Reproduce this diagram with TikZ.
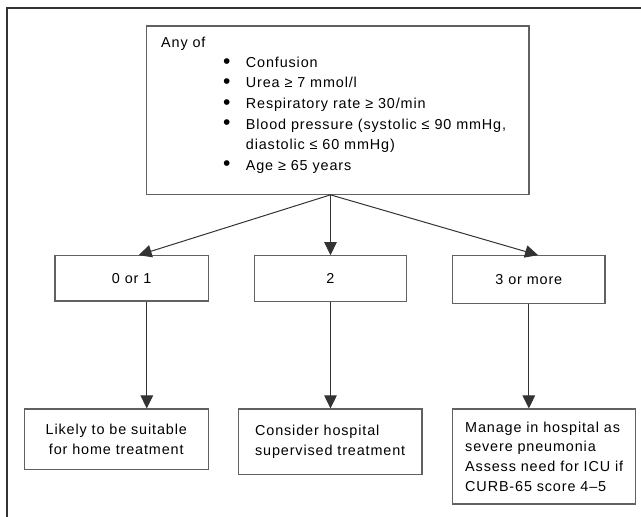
\documentclass[tikz,border=0pt]{standalone}
\usepackage{fontspec}
\setmainfont{Liberation Sans}[LetterSpace=6]
\usetikzlibrary{arrows.meta,calc}
\begin{document}
\begin{tikzpicture}[x=1pt,y=-1pt,
  box/.style={draw=black!62, line width=1.1pt, inner sep=0pt,
    font=\fontsize{14.4}{19.6}\selectfont, text=black},
  txt/.style={inner sep=0pt, font=\fontsize{14.4}{19.6}\selectfont, text=black},
  bul/.style={inner sep=0pt, font=\fontsize{21}{21}\selectfont, text=black, anchor=center},
  arr/.style={draw=black!80, line width=1pt, -{Triangle[length=13pt,width=12.5pt]}},
  frame/.style={draw=black!80, line width=2pt}]
\useasboundingbox (0,0) rectangle (641,517);
\draw[frame] (7,517) -- (7,8) -- (641,8);

% top box
\node[box, minimum width=382.3pt, minimum height=168.3pt] (top) at (337.85,110.15) {};
\node[txt, anchor=base west] (anyof) at (161,47.3) {Any of};
\node[bul] (bu1) at (226.7,63.3) {•};
\node[txt, anchor=base west] (l1) at (245.7,67.3) {Confusion};
\node[bul] (bu2) at (226.7,83.8) {•};
\node[txt, anchor=base west] (l2) at (245.7,87.8) {Urea ≥ 7 mmol/l};
\node[bul] (bu3) at (226.7,104.5) {•};
\node[txt, anchor=base west] (l3) at (245.7,108.5) {Respiratory rate ≥ 30/min};
\node[bul] (bu4) at (226.7,125) {•};
\node[txt, anchor=base west] (l4) at (245.7,129) {Blood pressure (systolic ≤ 90 mmHg,};
\node[txt, anchor=base west] (l5) at (245.7,149.5) {diastolic ≤ 60 mmHg)};
\node[bul] (bu6) at (226.7,166) {•};
\node[txt, anchor=base west] (l6) at (245.7,170) {Age ≥ 65 years};

% middle row
\node[box, minimum width=153.3pt, minimum height=45.3pt] (m1) at (131.65,278.35) {0 or 1};
\node[box, minimum width=152.4pt, minimum height=45.6pt] (m2) at (330.5,278.5) {2};
\node[box, minimum width=152.3pt, minimum height=47.6pt] (m3) at (528.85,279.5) {3 or more};

% bottom row
\node[box, align=center, minimum width=184pt, minimum height=60.3pt] (r1) at (116.3,439.15)
  {Likely to be suitable\\for home treatment};
\node[box, align=left, minimum width=183.7pt, minimum height=65.7pt] (r2) at (330.15,441.85)
  {Consider hospital\\supervised treatment};
\node[box, align=left, minimum width=183pt, minimum height=95pt] (r3) at (544.2,456.5)
  {Manage in hospital as\\severe pneumonia\\Assess need for ICU if\\CURB-65 score 4–5};

% connectors
\coordinate (split) at (top.south -| m2.north);
\draw[arr] (split) -- ($(m1.north west)!0.545!(m1.north east)$);
\draw[arr] (split) -- (m2.north);
\draw[arr] (split) -- ($(m3.north west)!0.56!(m3.north east)$);
\coordinate (d1) at ($(m1.south west)!0.598!(m1.south east)$);
\draw[arr] (d1) -- (d1 |- r1.north);
\draw[arr] (m2.south) -- (m2.south |- r2.north);
\draw[arr] (m3.south) -- (m3.south |- r3.north);
\end{tikzpicture}
\end{document}
